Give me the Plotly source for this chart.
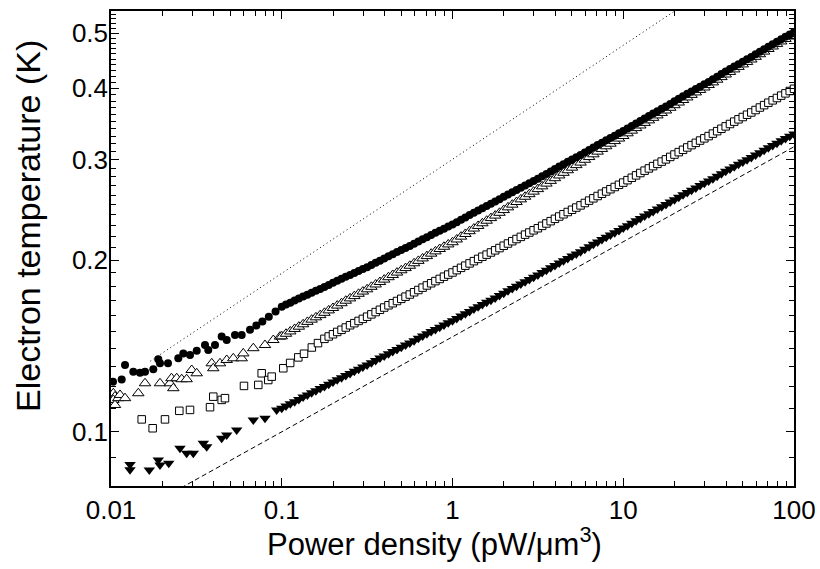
import plotly.graph_objects as go

# ---------------- data ----------------
# Sparse low-power points (pW/um^3, K)
P_circ_low = [0.01027, 0.01155, 0.01208, 0.01351, 0.01479, 0.01582, 0.01769, 0.01892, 0.01936,
              0.02157, 0.02478, 0.02651, 0.02902, 0.03177, 0.03552, 0.03712, 0.04065, 0.04449,
              0.04761, 0.05323, 0.05827, 0.06516, 0.0710, 0.0770, 0.0840, 0.0920]
T_circ_low = [0.1224, 0.1235, 0.1309, 0.1274, 0.1269, 0.1274, 0.1287, 0.1340, 0.1318,
              0.1318, 0.1345, 0.1372, 0.1363, 0.1387, 0.1419, 0.1391, 0.1419, 0.1468,
              0.1448, 0.1478, 0.1478, 0.1509, 0.1535, 0.1560, 0.1590, 0.1625]

P_tri_low = [0.01032, 0.01055, 0.01032, 0.01055, 0.01103, 0.01130, 0.01208, 0.01445, 0.01582,
             0.01936, 0.02215, 0.02317, 0.02260, 0.02425, 0.02594, 0.02774, 0.02970, 0.03177,
             0.03889, 0.03972, 0.04348, 0.04761, 0.05202, 0.05825, 0.05952, 0.06814, 0.07977,
             0.08923, 0.09768]
T_tri_low = [0.1168, 0.1153, 0.1137, 0.1114, 0.1145, 0.1160, 0.1145, 0.1168, 0.1216,
             0.1216, 0.1216, 0.1192, 0.1241, 0.1241, 0.1236, 0.1236, 0.1283, 0.1266,
             0.1318, 0.1292, 0.1318, 0.1336, 0.1345, 0.1345, 0.1372, 0.1401, 0.1419,
             0.1448, 0.1468]

P_sq_low = [0.01513, 0.01754, 0.02071, 0.02512, 0.02902, 0.03801, 0.03972, 0.04448, 0.04650,
            0.06009, 0.07288, 0.07629, 0.08339, 0.08733, 0.1021, 0.1120, 0.1250, 0.1350,
            0.1500, 0.1630]
T_sq_low = [0.1051, 0.1014, 0.1051, 0.1088, 0.1092, 0.1104, 0.1152, 0.1137, 0.1145,
            0.1203, 0.1208, 0.1266, 0.1232, 0.1249, 0.1292, 0.1320, 0.1350, 0.1370,
            0.1405, 0.1430]

P_dtri_low = [0.01292, 0.01292, 0.01676, 0.01892, 0.01936, 0.02179, 0.02535, 0.02774, 0.03034,
              0.03472, 0.03635, 0.04448, 0.04760, 0.05447, 0.06814, 0.07977, 0.09341]
T_dtri_low = [0.0876, 0.0858, 0.0857, 0.0892, 0.0874, 0.0880, 0.0935, 0.0917, 0.0917,
              0.0954, 0.0941, 0.0974, 0.0987, 0.1007, 0.1048, 0.1056, 0.1092]

# Dense region: power values shared by all four series
P_dense = [0.1, 0.1059, 0.1122, 0.1189, 0.1259, 0.1334, 0.1413, 0.1496, 0.1585, 0.1679,
           0.1778, 0.1884, 0.1995, 0.2113, 0.2239, 0.2371, 0.2512, 0.2661, 0.2818, 0.2985,
           0.3162, 0.3350, 0.3548, 0.3758, 0.3981, 0.4217, 0.4467, 0.4732, 0.5012, 0.5309,
           0.5623, 0.5957, 0.6310, 0.6683, 0.7079, 0.7499, 0.7943, 0.8414, 0.8913, 0.9441,
           1.0, 1.059, 1.122, 1.189, 1.259, 1.334, 1.413, 1.496, 1.585, 1.679,
           1.778, 1.884, 1.995, 2.113, 2.239, 2.371, 2.512, 2.661, 2.818, 2.985,
           3.162, 3.350, 3.548, 3.758, 3.981, 4.217, 4.467, 4.732, 5.012, 5.309,
           5.623, 5.957, 6.310, 6.683, 7.079, 7.499, 7.943, 8.414, 8.913, 9.441,
           10.0, 10.59, 11.22, 11.89, 12.59, 13.34, 14.13, 14.96, 15.85, 16.79,
           17.78, 18.84, 19.95, 21.13, 22.39, 23.71, 25.12, 26.61, 28.18, 29.85,
           31.62, 33.50, 35.48, 37.58, 39.81, 42.17, 44.67, 47.32, 50.12, 53.09,
           56.23, 59.57, 63.10, 66.83, 70.79, 74.99, 79.43, 84.14, 89.13, 94.41, 100.0]

T_circ = [0.1657, 0.1671, 0.1684, 0.1698, 0.1712, 0.1726, 0.1739, 0.1753, 0.1767, 0.1780,
          0.1794, 0.1809, 0.1824, 0.1839, 0.1854, 0.1869, 0.1883, 0.1898, 0.1913, 0.1928,
          0.1943, 0.1960, 0.1978, 0.1995, 0.2013, 0.2030, 0.2047, 0.2065, 0.2082, 0.2100,
          0.2117, 0.2136, 0.2155, 0.2174, 0.2193, 0.2213, 0.2232, 0.2251, 0.2270, 0.2289,
          0.2308, 0.2330, 0.2353, 0.2375, 0.2398, 0.2420, 0.2442, 0.2465, 0.2487, 0.2510,
          0.2532, 0.2556, 0.2581, 0.2605, 0.2630, 0.2654, 0.2678, 0.2703, 0.2727, 0.2752,
          0.2776, 0.2804, 0.2832, 0.2860, 0.2888, 0.2917, 0.2945, 0.2973, 0.3001, 0.3029,
          0.3057, 0.3088, 0.3119, 0.3150, 0.3181, 0.3212, 0.3243, 0.3274, 0.3305, 0.3336,
          0.3367, 0.3402, 0.3437, 0.3472, 0.3507, 0.3543, 0.3578, 0.3613, 0.3648, 0.3683,
          0.3718, 0.3757, 0.3796, 0.3834, 0.3873, 0.3912, 0.3951, 0.3990, 0.4028, 0.4067,
          0.4106, 0.4150, 0.4193, 0.4237, 0.4280, 0.4324, 0.4367, 0.4411, 0.4454, 0.4498,
          0.4541, 0.4589, 0.4637, 0.4685, 0.4733, 0.4781, 0.4829, 0.4877, 0.4925, 0.4973, 0.5021]

T_tri = [0.1470, 0.1485, 0.1499, 0.1514, 0.1528, 0.1543, 0.1558, 0.1572, 0.1587, 0.1601,
         0.1616, 0.1632, 0.1648, 0.1664, 0.1680, 0.1697, 0.1713, 0.1729, 0.1745, 0.1761,
         0.1777, 0.1795, 0.1812, 0.1830, 0.1848, 0.1866, 0.1883, 0.1901, 0.1919, 0.1936,
         0.1954, 0.1974, 0.1993, 0.2013, 0.2032, 0.2052, 0.2071, 0.2091, 0.2110, 0.2130,
         0.2149, 0.2173, 0.2198, 0.2222, 0.2247, 0.2271, 0.2295, 0.2320, 0.2344, 0.2369,
         0.2393, 0.2420, 0.2447, 0.2474, 0.2501, 0.2528, 0.2555, 0.2582, 0.2609, 0.2636,
         0.2663, 0.2693, 0.2723, 0.2753, 0.2783, 0.2814, 0.2844, 0.2874, 0.2904, 0.2934,
         0.2964, 0.2998, 0.3031, 0.3065, 0.3098, 0.3132, 0.3166, 0.3199, 0.3233, 0.3266,
         0.3300, 0.3336, 0.3372, 0.3407, 0.3443, 0.3479, 0.3515, 0.3551, 0.3586, 0.3622,
         0.3658, 0.3698, 0.3737, 0.3777, 0.3816, 0.3856, 0.3896, 0.3935, 0.3975, 0.4014,
         0.4054, 0.4098, 0.4142, 0.4186, 0.4230, 0.4274, 0.4318, 0.4362, 0.4406, 0.4450,
         0.4494, 0.4543, 0.4591, 0.4640, 0.4689, 0.4737, 0.4786, 0.4834, 0.4883, 0.4931, 0.4980]

# squares: dense part starts at P = 0.1778 (P_dense[10:])
T_sq = [0.1455, 0.1469, 0.1482, 0.1496, 0.1509, 0.1523, 0.1537, 0.1550, 0.1564, 0.1577,
        0.1591, 0.1606, 0.1621, 0.1636, 0.1651, 0.1666, 0.1680, 0.1695, 0.1710, 0.1725,
        0.1740, 0.1756, 0.1772, 0.1789, 0.1805, 0.1821, 0.1837, 0.1853, 0.1870, 0.1886,
        0.1902, 0.1920, 0.1938, 0.1955, 0.1973, 0.1991, 0.2009, 0.2027, 0.2044, 0.2062,
        0.2080, 0.2099, 0.2119, 0.2138, 0.2158, 0.2177, 0.2196, 0.2216, 0.2235, 0.2255,
        0.2274, 0.2296, 0.2318, 0.2340, 0.2362, 0.2384, 0.2406, 0.2428, 0.2450, 0.2472,
        0.2494, 0.2518, 0.2542, 0.2566, 0.2590, 0.2614, 0.2638, 0.2662, 0.2686, 0.2710,
        0.2734, 0.2761, 0.2788, 0.2815, 0.2842, 0.2869, 0.2895, 0.2922, 0.2949, 0.2976,
        0.3003, 0.3033, 0.3062, 0.3092, 0.3121, 0.3151, 0.3181, 0.3210, 0.3240, 0.3269,
        0.3299, 0.3332, 0.3365, 0.3398, 0.3431, 0.3464, 0.3497, 0.3530, 0.3563, 0.3596,
        0.3629, 0.3665, 0.3702, 0.3738, 0.3775, 0.3811, 0.3847, 0.3884, 0.3920, 0.3957, 0.3993]

T_dtri = [0.1099, 0.1109, 0.1119, 0.1129, 0.1139, 0.1150, 0.1160, 0.1170, 0.1180, 0.1190,
          0.1200, 0.1211, 0.1222, 0.1233, 0.1244, 0.1255, 0.1265, 0.1276, 0.1287, 0.1298,
          0.1309, 0.1321, 0.1333, 0.1346, 0.1358, 0.1370, 0.1382, 0.1394, 0.1407, 0.1419,
          0.1431, 0.1444, 0.1458, 0.1471, 0.1485, 0.1498, 0.1511, 0.1525, 0.1538, 0.1552,
          0.1565, 0.1580, 0.1595, 0.1610, 0.1625, 0.1641, 0.1656, 0.1671, 0.1686, 0.1701,
          0.1716, 0.1733, 0.1749, 0.1766, 0.1782, 0.1799, 0.1816, 0.1832, 0.1849, 0.1865,
          0.1882, 0.1901, 0.1919, 0.1938, 0.1957, 0.1976, 0.1994, 0.2013, 0.2032, 0.2050,
          0.2069, 0.2090, 0.2110, 0.2131, 0.2151, 0.2172, 0.2193, 0.2213, 0.2234, 0.2254,
          0.2275, 0.2298, 0.2320, 0.2343, 0.2366, 0.2389, 0.2411, 0.2434, 0.2457, 0.2479,
          0.2502, 0.2527, 0.2552, 0.2577, 0.2602, 0.2627, 0.2651, 0.2676, 0.2701, 0.2726,
          0.2751, 0.2778, 0.2806, 0.2833, 0.2861, 0.2888, 0.2915, 0.2943, 0.2970, 0.2998,
          0.3025, 0.3055, 0.3085, 0.3116, 0.3146, 0.3176, 0.3206, 0.3236, 0.3267, 0.3297, 0.3327]

# Reference power-law guide lines (end points)
P_dotted = [0.017, 100.0]
T_dotted = [0.133, 0.754]
P_dashed = [0.01, 100.0]
T_dashed = [0.0681, 0.316]

x_tickvals = [0.01, 0.1, 1, 10, 100]
x_ticktext = ["0.01", "0.1", "1", "10", "100"]
y_tickvals = [0.1, 0.2, 0.3, 0.4, 0.5]
y_ticktext = ["0.1", "0.2", "0.3", "0.4", "0.5"]

x_minor = [m * d for d in (0.01, 0.1, 1, 10) for m in range(2, 10)]
y_minor = [v / 100 for v in range(8, 55) if v % 10 != 0]

x_title = "Power density (pW/μm<sup>3</sup>)"
y_title = "Electron temperature (K)"

# ---------------- figure ----------------
fig = go.Figure()
fig.add_trace(go.Scatter(x=P_dotted, y=T_dotted, mode="lines",
                         line=dict(color="black", width=1, dash="1px,3px")))
fig.add_trace(go.Scatter(x=P_dashed, y=T_dashed, mode="lines",
                         line=dict(color="black", width=1, dash="5px,3px")))

fig.add_trace(go.Scatter(x=P_sq_low + P_dense[10:], y=T_sq_low + T_sq, mode="markers",
                         marker=dict(symbol="square", size=7.5, color="white",
                                     line=dict(color="black", width=1))))
fig.add_trace(go.Scatter(x=P_dtri_low + P_dense, y=T_dtri_low + T_dtri, mode="markers",
                         marker=dict(symbol="triangle-down", size=10, color="black",
                                     line=dict(width=0))))
fig.add_trace(go.Scatter(x=P_tri_low + P_dense, y=T_tri_low + T_tri, mode="markers",
                         marker=dict(symbol="triangle-up", size=10, color="white",
                                     line=dict(color="black", width=1))))
fig.add_trace(go.Scatter(x=P_circ_low + P_dense, y=T_circ_low + T_circ, mode="markers",
                         marker=dict(symbol="circle", size=8, color="black",
                                     line=dict(width=0))))

font_family = "Arial, Liberation Sans, sans-serif"
axis_common = dict(
    type="log", showgrid=False, zeroline=False,
    showline=True, linecolor="black", linewidth=1.5, mirror="ticks",
    ticks="inside", ticklen=8, tickwidth=1.2, tickcolor="black",
    tickfont=dict(family=font_family, size=26, color="black"),
)

fig.update_xaxes(
    **axis_common,
    range=[-2, 2],
    tickmode="array", tickvals=x_tickvals, ticktext=x_ticktext,
    minor=dict(tickmode="array", tickvals=x_minor, ticks="inside", ticklen=5,
               tickwidth=1.2, tickcolor="black", showgrid=False),
)
fig.update_yaxes(
    **axis_common,
    range=[-1.0952, -0.2623],
    tickmode="array", tickvals=y_tickvals, ticktext=y_ticktext,
    ticklabelstandoff=-4,
    minor=dict(tickmode="array", tickvals=y_minor, ticks="inside", ticklen=5,
               tickwidth=1.2, tickcolor="black", showgrid=False),
)

fig.add_annotation(text=x_title, xref="paper", yref="paper",
                   x=(434 - 111) / 683, y=(486 - 542) / 475,
                   xanchor="center", yanchor="middle", showarrow=False,
                   font=dict(family=font_family, size=31, color="black"))
fig.add_annotation(text=y_title, xref="paper", yref="paper",
                   x=(28 - 111) / 683, y=(486 - 226) / 475, textangle=-90,
                   xanchor="center", yanchor="middle", showarrow=False,
                   font=dict(family=font_family, size=34, color="black"))

fig.update_layout(
    width=820, height=569,
    margin=dict(l=111, r=26, t=11, b=83, autoexpand=False),
    paper_bgcolor="white", plot_bgcolor="white",
    showlegend=False,
)

fig.write_html("out.html")
